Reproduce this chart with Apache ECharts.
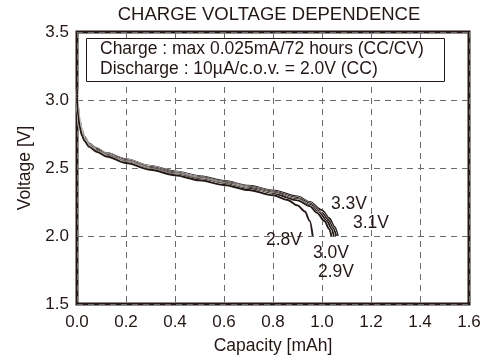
<!DOCTYPE html>
<html><head><meta charset="utf-8">
<script src="https://cdn.jsdelivr.net/npm/echarts@6/dist/echarts.min.js"></script>
<style>html,body{margin:0;padding:0;background:#fff}#c{width:500px;height:360px}</style>
</head><body><div id="c"></div>
<script>
const seriesNames = ['3.3V', '3.1V', '3.0V', '2.9V', '2.8V'];
const cap33 = [0, 0.005, 0.01, 0.02, 0.03, 0.05, 0.08, 0.12, 0.2, 0.3, 0.4, 0.5, 0.6, 0.7, 0.8, 0.9, 0.95, 1.0, 1.03, 1.05, 1.065];
const v33   = [3.08, 2.95, 2.86, 2.78, 2.73, 2.68, 2.645, 2.61, 2.565, 2.515, 2.475, 2.44, 2.405, 2.37, 2.335, 2.29, 2.25, 2.19, 2.13, 2.07, 2.0];
const cap31 = [0, 0.005, 0.01, 0.02, 0.03, 0.05, 0.08, 0.12, 0.2, 0.3, 0.4, 0.5, 0.6, 0.7, 0.8, 0.9, 0.95, 1.0, 1.025, 1.045, 1.058];
const v31   = [3.06, 2.93, 2.85, 2.77, 2.72, 2.675, 2.64, 2.605, 2.558, 2.508, 2.468, 2.432, 2.397, 2.362, 2.325, 2.28, 2.24, 2.17, 2.12, 2.06, 2.0];
const cap30 = [0, 0.005, 0.01, 0.02, 0.03, 0.05, 0.08, 0.12, 0.2, 0.3, 0.4, 0.5, 0.6, 0.7, 0.8, 0.9, 0.95, 0.99, 1.02, 1.04, 1.048];
const v30   = [3.04, 2.91, 2.83, 2.76, 2.71, 2.668, 2.632, 2.598, 2.55, 2.50, 2.46, 2.425, 2.39, 2.355, 2.318, 2.27, 2.23, 2.17, 2.11, 2.05, 2.0];
const cap29 = [0, 0.005, 0.01, 0.02, 0.03, 0.05, 0.08, 0.12, 0.2, 0.3, 0.4, 0.5, 0.6, 0.7, 0.8, 0.9, 0.95, 0.98, 1.01, 1.03, 1.038];
const v29   = [3.02, 2.90, 2.82, 2.75, 2.705, 2.66, 2.625, 2.59, 2.543, 2.493, 2.453, 2.418, 2.383, 2.347, 2.31, 2.262, 2.22, 2.17, 2.11, 2.05, 2.0];
const cap28 = [0, 0.005, 0.01, 0.02, 0.03, 0.05, 0.08, 0.12, 0.2, 0.3, 0.4, 0.5, 0.6, 0.7, 0.8, 0.86, 0.9, 0.93, 0.95, 0.962];
const v28   = [3.0, 2.88, 2.81, 2.74, 2.70, 2.655, 2.62, 2.585, 2.537, 2.487, 2.447, 2.41, 2.375, 2.338, 2.30, 2.265, 2.225, 2.18, 2.11, 2.0];
const xTicks = ['0.0','0.2','0.4','0.6','0.8','1.0','1.2','1.4','1.6'];
const yTicks = ['1.5','2.0','2.5','3.0','3.5'];
const titleText = 'CHARGE VOLTAGE DEPENDENCE';
const noteLines = ['Charge : max 0.025mA/72 hours (CC/CV)', 'Discharge : 10\u00b5A/c.o.v. = 2.0V (CC)'];
const xName = 'Capacity [mAh]';
const yName = 'Voltage [V]';

const dark = '#231815';
const FONT = '"Liberation Sans", Arial, sans-serif';
const caps = [cap33, cap31, cap30, cap29, cap28];
const volts = [v33, v31, v30, v29, v28];

const series = [];
caps.forEach((c, i) => {
  const data = c.map((x, j) => [x, volts[i][j]]);
  series.push({type: 'line', data, smooth: 0.3, smoothMonotone: 'x', symbol: 'none', silent: true,
    lineStyle: {color: '#fff', width: 2.6}, z: 2});
  series.push({type: 'line', name: seriesNames[i], data, smooth: 0.3, smoothMonotone: 'x', symbol: 'none', silent: true,
    lineStyle: {color: dark, width: 1.9}, z: 2});
});

const chart = echarts.init(document.getElementById('c'), null, {renderer: 'canvas'});
const dashed = {show: true, lineStyle: {color: '#6b6b6b', type: [6, 5], width: 1}};
const tickFont = {fontFamily: FONT, fontSize: 17, color: dark};
chart.setOption({
  animation: false,
  backgroundColor: '#fff',
  title: {text: titleText, left: 264, top: 0, textAlign: 'center',
    textStyle: {fontFamily: FONT, fontSize: 18.5, fontWeight: 'normal', color: dark}},
  grid: {left: 77, right: 31, top: 32, bottom: 56, show: true, borderColor: dark, borderWidth: 3,
    backgroundColor: 'transparent', outerBoundsMode: 'none', containLabel: false},
  xAxis: {type: 'value', min: 0, max: 1.6, interval: 0.2,
    name: xName, nameLocation: 'middle', nameGap: 33,
    nameTextStyle: {fontFamily: FONT, fontSize: 17.5, color: dark},
    axisLine: {show: false}, axisTick: {show: false}, splitLine: dashed,
    axisLabel: Object.assign({margin: 10, formatter: v => xTicks[Math.round(v / 0.2)]}, tickFont)},
  yAxis: {type: 'value', min: 1.5, max: 3.5, interval: 0.5,
    name: yName, nameLocation: 'middle', nameGap: 41, nameRotate: 90,
    nameTextStyle: {fontFamily: FONT, fontSize: 17.5, color: dark},
    axisLine: {show: false}, axisTick: {show: false}, splitLine: dashed,
    axisLabel: Object.assign({margin: 8, formatter: v => yTicks[Math.round((v - 1.5) / 0.5)]}, tickFont)},
  series,
  graphic: [
    {type: 'rect', shape: {x: 86.5, y: 38.5, width: 358, height: 43}, z: 10,
      style: {fill: '#fff', stroke: dark, lineWidth: 1}},
    {type: 'text', x: 100, y: 49, z: 11, style: {text: noteLines[0], font: '17.5px ' + FONT, fill: dark, verticalAlign: 'middle'}},
    {type: 'text', x: 100, y: 69.5, z: 11, style: {text: noteLines[1], font: '17.5px ' + FONT, fill: dark, verticalAlign: 'middle'}},
    {type: 'text', x: 349, y: 204, z: 11, style: {text: seriesNames[0], font: '17.5px ' + FONT, fill: dark, align: 'center', verticalAlign: 'middle'}},
    {type: 'text', x: 371, y: 223, z: 11, style: {text: seriesNames[1], font: '17.5px ' + FONT, fill: dark, align: 'center', verticalAlign: 'middle'}},
    {type: 'text', x: 331, y: 253, z: 11, style: {text: seriesNames[2], font: '17.5px ' + FONT, fill: dark, align: 'center', verticalAlign: 'middle'}},
    {type: 'text', x: 336, y: 272, z: 11, style: {text: seriesNames[3], font: '17.5px ' + FONT, fill: dark, align: 'center', verticalAlign: 'middle'}},
    {type: 'text', x: 284, y: 240, z: 11, style: {text: seriesNames[4], font: '17.5px ' + FONT, fill: dark, align: 'center', verticalAlign: 'middle'}}
  ]
});
</script></body></html>
